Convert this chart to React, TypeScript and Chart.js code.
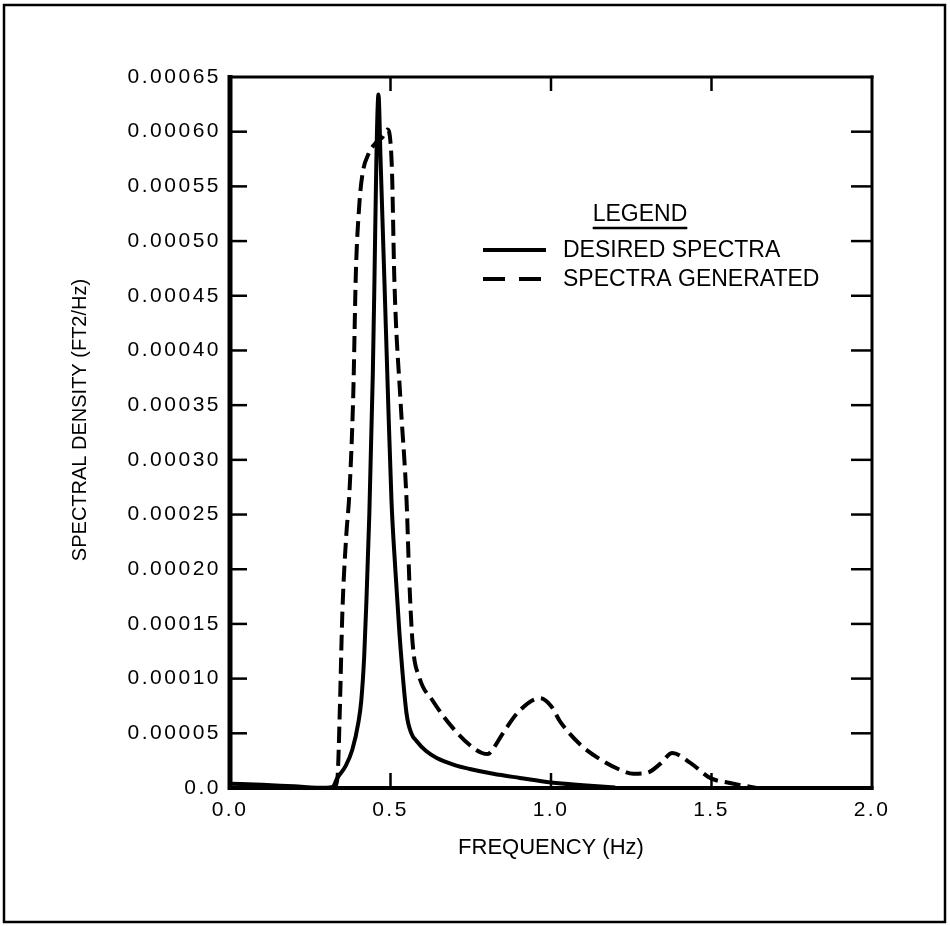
import React, { useEffect, useRef } from "react";
import { Chart, registerables } from "chart.js";

Chart.register(...registerables);

// ---------- data ----------
const DESIRED_FREQ = [0.0, 0.1, 0.2, 0.3, 0.32, 0.334, 0.36, 0.381, 0.4, 0.409, 0.418, 0.425, 0.434, 0.445, 0.45, 0.456, 0.4625, 0.469, 0.481, 0.492, 0.503, 0.515, 0.528, 0.55, 0.565, 0.581, 0.61, 0.644, 0.7, 0.747, 0.82, 0.903, 1.0, 1.1, 1.2];
const DESIRED_PSD = [0.000004, 0.000003, 0.0000015, 0.0000002, 0.000001, 0.000009, 0.00002, 0.000035, 0.00006, 0.00008, 0.00012, 0.000171, 0.00025, 0.00038, 0.000464, 0.000575, 0.000634, 0.000575, 0.000464, 0.00036, 0.000263, 0.0002, 0.000141, 0.000068, 0.00005, 0.000043, 0.000034, 0.0000275, 0.000021, 0.0000174, 0.000013, 0.0000092, 0.000005, 0.0000025, 0.0000005];

const GEN_FREQ = [0.325, 0.335, 0.342, 0.35, 0.362, 0.372, 0.384, 0.392, 0.402, 0.412, 0.432, 0.455, 0.475, 0.49, 0.5, 0.505, 0.512, 0.531, 0.55, 0.559, 0.569, 0.59, 0.631, 0.694, 0.756, 0.785, 0.803, 0.82, 0.85, 0.903, 0.966, 1.0, 1.028, 1.09, 1.16, 1.22, 1.256, 1.3, 1.34, 1.378, 1.434, 1.497, 1.55, 1.64];
const GEN_PSD = [0.0, 0.00001, 0.00007, 0.00016, 0.00023, 0.00027, 0.00036, 0.00047, 0.00053, 0.00056, 0.00058, 0.00059, 0.000595, 0.000602, 0.00059, 0.00056, 0.000465, 0.000355, 0.000263, 0.000187, 0.000132, 0.000101, 0.00008, 0.000055, 0.000037, 0.000032, 0.000031, 0.000036, 0.00005, 0.000071, 0.000082, 0.000075, 0.000061, 0.00004, 0.000025, 0.000016, 0.000013, 0.000014, 0.000022, 0.000032, 0.000023, 0.000009, 0.000005, 0.0];

const X_TICKS = [0.0, 0.5, 1.0, 1.5, 2.0];
const Y_TICKS = [0, 0.00005, 0.0001, 0.00015, 0.0002, 0.00025, 0.0003, 0.00035, 0.0004, 0.00045, 0.0005, 0.00055, 0.0006, 0.00065];

const X_TITLE = "FREQUENCY (Hz)";
const Y_TITLE = "SPECTRAL DENSITY (FT2/Hz)";
const LEGEND_TITLE = "LEGEND";
const SERIES_LABELS = ["DESIRED SPECTRA", "SPECTRA GENERATED"];

const FONT = "'Liberation Sans', Arial, Helvetica, sans-serif";

const decorPlugin = {
  id: "decor",
  beforeDraw(chart: any) {
    chart.ctx.letterSpacing = "2.5px";
  },
  afterDraw(chart: any) {
    const ctx = chart.ctx;
    const { left, right, top, bottom } = chart.chartArea;
    const xs = chart.scales.x;
    const ys = chart.scales.y;
    ctx.save();
    ctx.letterSpacing = "0px";
    ctx.strokeStyle = "#000";
    ctx.fillStyle = "#000";
    ctx.setLineDash([]);
    ctx.lineCap = "butt";

    const line = (x1: number, y1: number, x2: number, y2: number, w: number) => {
      ctx.lineWidth = w;
      ctx.beginPath();
      ctx.moveTo(x1, y1);
      ctx.lineTo(x2, y2);
      ctx.stroke();
    };

    // outer frame
    ctx.lineWidth = 2.5;
    ctx.strokeRect(4, 5, 941, 917);

    // plot box
    line(left, top - 2, left, bottom + 2, 5);
    line(left - 2, bottom, right + 1.5, bottom, 4);
    line(left - 2, top, right + 1.5, top, 3);
    line(right, top - 1.5, right, bottom + 2, 3);

    // inward ticks on all four sides
    xs.ticks.forEach((t: any, i: number) => {
      if (i === 0 || i === xs.ticks.length - 1) return;
      const px = xs.getPixelForValue(t.value);
      line(px, bottom, px, bottom - 15, 2.5);
      line(px, top, px, top + 14, 2.5);
    });
    ys.ticks.forEach((t: any, i: number) => {
      if (i === 0 || i === ys.ticks.length - 1) return;
      const py = ys.getPixelForValue(t.value);
      line(left, py, left + 17, py, 2.5);
      line(right, py, right - 21, py, 2.5);
    });

    // axis titles
    ctx.textBaseline = "middle";
    ctx.textAlign = "center";
    ctx.font = `22px ${FONT}`;
    ctx.fillText(X_TITLE, (left + right) / 2, 848);
    ctx.save();
    ctx.translate(80, 420);
    ctx.rotate(-Math.PI / 2);
    ctx.font = `20px ${FONT}`;
    ctx.fillText(Y_TITLE, 0, 0);
    ctx.restore();

    // legend
    ctx.font = `23px ${FONT}`;
    ctx.textAlign = "center";
    ctx.fillText(LEGEND_TITLE, 640, 215);
    const w = ctx.measureText(LEGEND_TITLE).width;
    line(640 - w / 2, 228, 640 + w / 2, 228, 2.5);

    ctx.textAlign = "left";
    const rowsY = [250, 279];
    chart.data.datasets.forEach((ds: any, i: number) => {
      const y = rowsY[i];
      ctx.save();
      ctx.lineWidth = ds.borderWidth;
      ctx.strokeStyle = ds.borderColor;
      ctx.setLineDash(ds.borderDash && ds.borderDash.length ? [22, 14] : []);
      ctx.beginPath();
      ctx.moveTo(483, y);
      ctx.lineTo(546, y);
      ctx.stroke();
      ctx.restore();
      ctx.fillText(ds.label, 563, y + 1);
    });

    ctx.restore();
  },
};

export default function App() {
  const canvasRef = useRef<HTMLCanvasElement | null>(null);

  useEffect(() => {
    const canvas = canvasRef.current;
    if (!canvas) return;

    const desired = DESIRED_FREQ.map((f, i) => ({ x: f, y: DESIRED_PSD[i] }));
    const generated = GEN_FREQ.map((f, i) => ({ x: f, y: GEN_PSD[i] }));

    const chart = new Chart(canvas, {
      type: "line",
      data: {
        datasets: [
          {
            label: SERIES_LABELS[0],
            data: desired,
            borderColor: "#000",
            borderWidth: 4,
            pointRadius: 0,
            fill: false,
            cubicInterpolationMode: "monotone",
          },
          {
            label: SERIES_LABELS[1],
            data: generated,
            borderColor: "#000",
            borderWidth: 4,
            borderDash: [16, 7],
            pointRadius: 0,
            fill: false,
            cubicInterpolationMode: "monotone",
          },
        ],
      },
      options: {
        animation: false,
        responsive: false,
        devicePixelRatio: 1,
        layout: { padding: { left: 0, top: 77, right: 78, bottom: 0 } },
        plugins: {
          legend: { display: false },
          tooltip: { enabled: false },
          title: { display: false },
        },
        scales: {
          x: {
            type: "linear",
            min: 0,
            max: 2,
            afterFit: (s: any) => {
              s.height = 138;
            },
            afterBuildTicks: (s: any) => {
              s.ticks = X_TICKS.map((v) => ({ value: v }));
            },
            grid: { display: false, drawTicks: false },
            border: { display: false },
            ticks: {
              autoSkip: false,
              maxRotation: 0,
              padding: 10,
              color: "#000",
              font: { family: FONT, size: 21 },
              callback: (v: any) => Number(v).toFixed(1),
            },
          },
          y: {
            type: "linear",
            min: 0,
            max: 0.00065,
            afterFit: (s: any) => {
              s.width = 230;
            },
            afterBuildTicks: (s: any) => {
              s.ticks = Y_TICKS.map((v) => ({ value: v }));
            },
            grid: { display: false, drawTicks: false },
            border: { display: false },
            ticks: {
              autoSkip: false,
              padding: 9,
              color: "#000",
              font: { family: FONT, size: 21 },
              callback: (v: any) => (Number(v) === 0 ? "0.0" : Number(v).toFixed(5)),
            },
          },
        },
      },
      plugins: [decorPlugin],
    } as any);

    return () => {
      chart.destroy();
    };
  }, []);

  return (
    <div style={{ position: "absolute", left: 0, top: 0, width: 950, height: 926, background: "#fff" }}>
      <canvas ref={canvasRef} width={950} height={926} style={{ display: "block" }} />
    </div>
  );
}
